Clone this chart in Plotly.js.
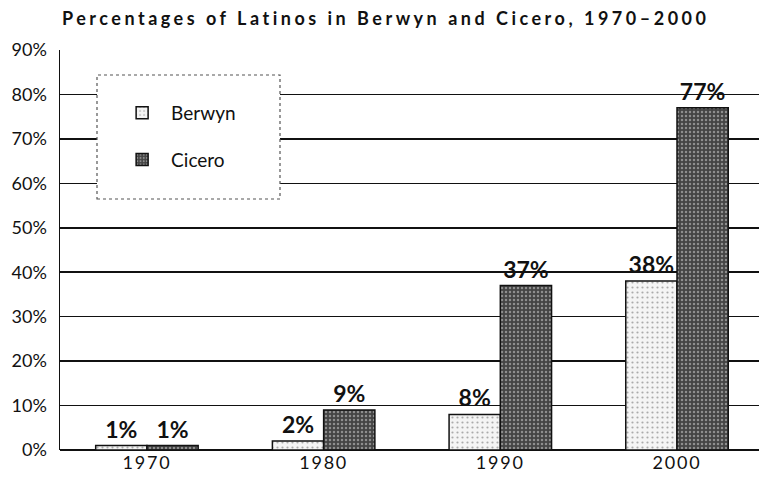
<!DOCTYPE html>
<html>
<head>
<meta charset="utf-8">
<script src="https://cdn.plot.ly/plotly-3.0.1.min.js"></script>
<style>
html,body{margin:0;padding:0;background:#fff;}
#chart{width:759px;height:482px;}
.gtitle{letter-spacing:3.5px;}
.xtick text{letter-spacing:1.8px;}
</style>
</head>
<body>
<div id="chart"></div>
<script>
const years = ['1970', '1980', '1990', '2000'];
const berwyn = [1, 2, 8, 38];
const cicero = [1, 9, 37, 77];
const yTicks = [0, 10, 20, 30, 40, 50, 60, 70, 80, 90];
const yTickLabels = ['0%', '10%', '20%', '30%', '40%', '50%', '60%', '70%', '80%', '90%'];

const fontFam = 'Lato, "Open Sans", sans-serif';

const traces = [
  {
    type: 'bar', name: 'Berwyn', x: years, y: berwyn,
    legendgroup: 'a',
    text: berwyn.map(v => v + '%'), textposition: 'outside', constraintext: 'none',
    cliponaxis: false,
    textfont: {family: fontFam, size: 23, color: '#111', weight: 'bold'},
    marker: {color: '#f2f2f2', line: {color: '#111', width: 1.5},
             pattern: {shape: '.', fgcolor: '#aaaaaa', bgcolor: '#f4f4f4', size: 5, solidity: 0.15}},
    hoverinfo: 'skip'
  },
  {
    type: 'bar', name: 'Cicero', x: years, y: cicero,
    legendgroup: 'b',
    text: cicero.map(v => v + '%'), textposition: 'outside', constraintext: 'none',
    cliponaxis: false,
    textfont: {family: fontFam, size: 23, color: '#111', weight: 'bold'},
    marker: {color: '#555', line: {color: '#111', width: 1.5},
             pattern: {shape: '.', fgcolor: '#8e8e8e', bgcolor: '#444', size: 4, solidity: 0.3}},
    hoverinfo: 'skip'
  }
];

const layout = {
  width: 759, height: 482,
  margin: {l: 60, r: 0, t: 50, b: 32},
  paper_bgcolor: '#fff', plot_bgcolor: '#fff',
  font: {family: fontFam, color: '#111'},
  title: {
    text: 'Percentages of Latinos in Berwyn and Cicero, 1970–2000',
    font: {family: fontFam, size: 18, color: '#111', weight: 'bold'},
    xref: 'container', x: 62/759, xanchor: 'left',
    yref: 'container', y: 1 - 12/482, yanchor: 'top'
  },
  barmode: 'group', bargap: 0.42, bargroupgap: 0,
  xaxis: {
    type: 'category', range: [-0.492, 3.464],
    showgrid: false, zeroline: false, showline: false,
    ticks: '', tickfont: {family: fontFam, size: 18, color: '#111'}
  },
  yaxis: {
    range: [0, 90], tickmode: 'array', tickvals: yTicks, ticktext: yTickLabels,
    showgrid: true, gridcolor: '#111', gridwidth: 1.5,
    zeroline: true, zerolinecolor: '#111', zerolinewidth: 2,
    showline: true, linecolor: '#111', linewidth: 1.5,
    ticks: '', ticklabelstandoff: 8,
    tickfont: {family: fontFam, size: 18, color: '#111'}
  },
  showlegend: true,
  legend: {
    x: 0.076, y: 0.89, xanchor: 'left', yanchor: 'top',
    bgcolor: 'rgba(0,0,0,0)', borderwidth: 0,
    tracegroupgap: 19, traceorder: 'grouped', itemwidth: 48,
    font: {family: fontFam, size: 19, color: '#111'}
  },
  shapes: [
    {type: 'rect', xref: 'paper', yref: 'paper', layer: 'above',
     x0: (97-60)/699, x1: (280-60)/699, y0: (450-199)/400, y1: (450-75)/400,
     fillcolor: '#fff', line: {color: '#555', width: 1.2, dash: 'dot'}}
  ]
};

Plotly.newPlot('chart', traces, layout, {displayModeBar: false, staticPlot: true});
</script>
</body>
</html>
